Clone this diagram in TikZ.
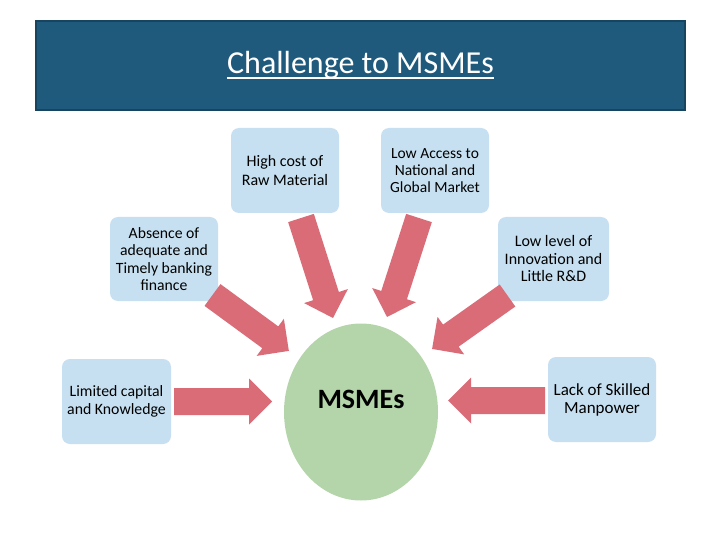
\documentclass[tikz,border=0pt]{standalone}
\usepackage{fontspec}
\setmainfont{Carlito}
\usetikzlibrary{calc,shapes.geometric}
\definecolor{hdrfill}{HTML}{1F5A7C}
\definecolor{hdrline}{HTML}{17445F}
\definecolor{boxfill}{HTML}{C6E0F1}
\definecolor{arrowred}{HTML}{DA6C78}
\definecolor{circfill}{HTML}{B4D5AA}
\newcommand\myul[1]{\setbox0\hbox{#1}\rlap{\rule[-5.5pt]{\wd0}{1.8pt}}\box0}
\newcommand\blockarrow[2]{%
  \fill[arrowred] let \p1=(#1), \p2=(#2), \n1={atan2(\y2-\y1,\x2-\x1)}, \n2={veclen(\x2-\x1,\y2-\y1)} in
  [shift={(\p1)}, rotate=\n1]
  (0pt,-13.5pt) -- (\n2-23pt,-13.5pt) -- (\n2-23pt,-23pt) -- (\n2,0pt) -- (\n2-23pt,23pt) -- (\n2-23pt,13.5pt) -- (0pt,13.5pt) -- cycle;}
\tikzset{
  cbox/.style={draw=none, fill=boxfill, rounded corners=8pt, align=center,
    inner sep=1pt, font=\fontsize{16}{19}\selectfont},
}
\begin{document}
\begin{tikzpicture}[x=1pt,y=-1pt]
\useasboundingbox[fill=white] (0,0) rectangle (720,540);
% header
\node[draw=hdrline, line width=2.5pt, fill=hdrfill, minimum width=649pt, minimum height=89pt,
  text=white, font=\fontsize{32}{36}\selectfont] (title) at (360.5,65.5) {\raisebox{-7.8pt}[0pt][0pt]{\myul{Challenge to MSMEs}}};
% center
\node[ellipse, fill=circfill, minimum width=154pt, minimum height=177pt,
  font=\bfseries\fontsize{28}{30}\selectfont] (core) at (361,412) {\raisebox{3.7pt}[0pt][0pt]{MSMEs}};
% boxes
\node[cbox, minimum width=108pt, minimum height=85pt] (high) at (285,170.5) {High cost of\\Raw Material};
\node[cbox, minimum width=108pt, minimum height=85pt, font=\fontsize{15.5}{17}\selectfont] (access) at (435,170.5) {Low Access to\\National and\\Global Market};
\node[cbox, minimum width=108pt, minimum height=84pt, font=\fontsize{15.7}{17.5}\selectfont] (absence) at (164,259) {Absence of\\adequate and\\Timely banking\\finance};
\node[cbox, minimum width=111pt, minimum height=84pt, font=\fontsize{16}{17.5}\selectfont] (level) at (553.5,259) {Low level of\\Innovation and\\Little R\&D};
\node[cbox, minimum width=109pt, minimum height=85pt, font=\fontsize{15.8}{17.5}\selectfont] (limited) at (116.5,401.5) {Limited capital\\and Knowledge};
\node[cbox, minimum width=108pt, minimum height=85pt, font=\fontsize{17}{18}\selectfont] (lack) at (602,399.5) {Lack of Skilled\\Manpower};
% arrow end points
\coordinate (t1) at (301,218); \coordinate (h1) at (333,318);
\coordinate (t2) at (419,218); \coordinate (h2) at (387,317);
\coordinate (t3) at (212.5,295); \coordinate (h3) at (289,351);
\coordinate (t4) at (507.5,295.5); \coordinate (h4) at (432,349);
\coordinate (t5) at (174,401.5); \coordinate (h5) at (272,401.5);
\coordinate (t6) at (545,400.5); \coordinate (h6) at (448,400.5);
\blockarrow{t1}{h1}
\blockarrow{t2}{h2}
\blockarrow{t3}{h3}
\blockarrow{t4}{h4}
\blockarrow{t5}{h5}
\blockarrow{t6}{h6}
\end{tikzpicture}
\end{document}
